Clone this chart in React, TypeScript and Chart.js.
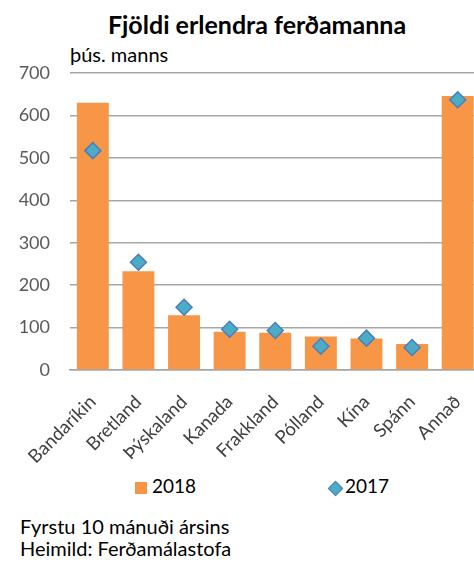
import React, { useEffect, useRef } from "react";
import { Chart, registerables } from "chart.js";

Chart.register(...registerables);

const categories = ["Bandaríkin", "Bretland", "Þýskaland", "Kanada", "Frakkland", "Pólland", "Kína", "Spánn", "Annað"];
const values2018 = [630, 233, 129, 90, 88, 79, 74, 61, 646];
const values2017 = [517, 254, 148, 96, 93, 56, 75, 53, 637];
const yTicks = [0, 100, 200, 300, 400, 500, 600, 700];

const FONT = "Lato, 'Noto Sans', sans-serif";
const ORANGE = "#F79646";
const TEAL = "#4BACC6";
const BLUE = "#4A7EBB";

export default function App() {
  const ref = useRef<HTMLCanvasElement | null>(null);

  useEffect(() => {
    if (!ref.current) return;
    const chart = new Chart(ref.current, {
      type: "bar",
      data: {
        labels: categories,
        datasets: [
          {
            type: "bar",
            label: "2018",
            data: values2018,
            backgroundColor: ORANGE,
            borderWidth: 0,
            barPercentage: 0.7,
            categoryPercentage: 1,
            order: 1,
          },
          {
            type: "line",
            label: "2017",
            data: values2017,
            showLine: false,
            pointStyle: "rectRot",
            pointRadius: 8,
            pointHoverRadius: 8,
            pointBackgroundColor: TEAL,
            pointBorderColor: BLUE,
            pointBorderWidth: 1.5,
            backgroundColor: TEAL,
            borderColor: BLUE,
            order: 0,
          },
        ],
      },
      options: {
        animation: false,
        responsive: false,
        maintainAspectRatio: false,
        layout: { padding: { top: 73, right: 6, left: 0, bottom: 0 } },
        plugins: {
          legend: { display: false },
          tooltip: { enabled: false },
          title: { display: false },
        },
        scales: {
          y: {
            min: yTicks[0],
            max: yTicks[yTicks.length - 1],
            afterFit: (s: any) => {
              s.width = 70;
            },
            afterBuildTicks: (s: any) => {
              s.ticks = yTicks.map((v) => ({ value: v }));
            },
            ticks: {
              font: { family: FONT, size: 18 },
              color: "#595959",
              padding: 20,
            },
            grid: { color: "#A6A6A6", lineWidth: 1.4, drawTicks: false },
            border: { display: false },
          },
          x: {
            offset: true,
            afterFit: (s: any) => {
              s.height = 100;
              s.paddingLeft = 0;
              s.paddingRight = 0;
            },
            ticks: {
              font: { family: FONT, size: 18.5 },
              color: "#404040",
              minRotation: 45,
              maxRotation: 45,
              padding: 21,
              autoSkip: false,
            },
            grid: { display: false, drawTicks: false },
            border: { display: true, color: "#A6A6A6", width: 1.6 },
          },
        },
      },
    });
    return () => chart.destroy();
  }, []);

  const text: React.CSSProperties = { position: "absolute", whiteSpace: "nowrap", fontFamily: FONT };

  return (
    <div
      style={{
        position: "fixed",
        left: 0,
        top: 0,
        width: 474,
        height: 562,
        overflow: "hidden",
        background: "#fff",
      }}
    >
      <div
        style={{
          ...text,
          left: 0,
          width: 514,
          top: 12,
          textAlign: "center",
          fontSize: 25,
          lineHeight: "25px",
          fontWeight: 700,
          color: "#000",
        }}
      >
        Fjöldi erlendra ferðamanna
      </div>
      <div style={{ ...text, left: 70, top: 44, fontSize: 20, lineHeight: "20px", color: "#000" }}>þús. manns</div>
      <canvas ref={ref} width={490} height={470} style={{ position: "absolute", left: 0, top: 0, width: 490, height: 470 }} />
      <div style={{ position: "absolute", left: 135, top: 482, width: 12, height: 12, background: ORANGE }} />
      <div style={{ ...text, left: 152, top: 476, fontSize: 19, lineHeight: "19px", color: "#000" }}>2018</div>
      <div
        style={{
          position: "absolute",
          left: 330,
          top: 483,
          width: 9,
          height: 9,
          background: TEAL,
          border: `1px solid ${BLUE}`,
          transform: "rotate(45deg)",
        }}
      />
      <div style={{ ...text, left: 345, top: 476, fontSize: 19, lineHeight: "19px", color: "#000" }}>2017</div>
      <div style={{ ...text, left: 20, top: 516, fontSize: 20, lineHeight: "20px", color: "#000" }}>Fyrstu 10 mánuði ársins</div>
      <div style={{ ...text, left: 20, top: 538, fontSize: 20, lineHeight: "20px", color: "#000" }}>Heimild: Ferðamálastofa</div>
    </div>
  );
}
